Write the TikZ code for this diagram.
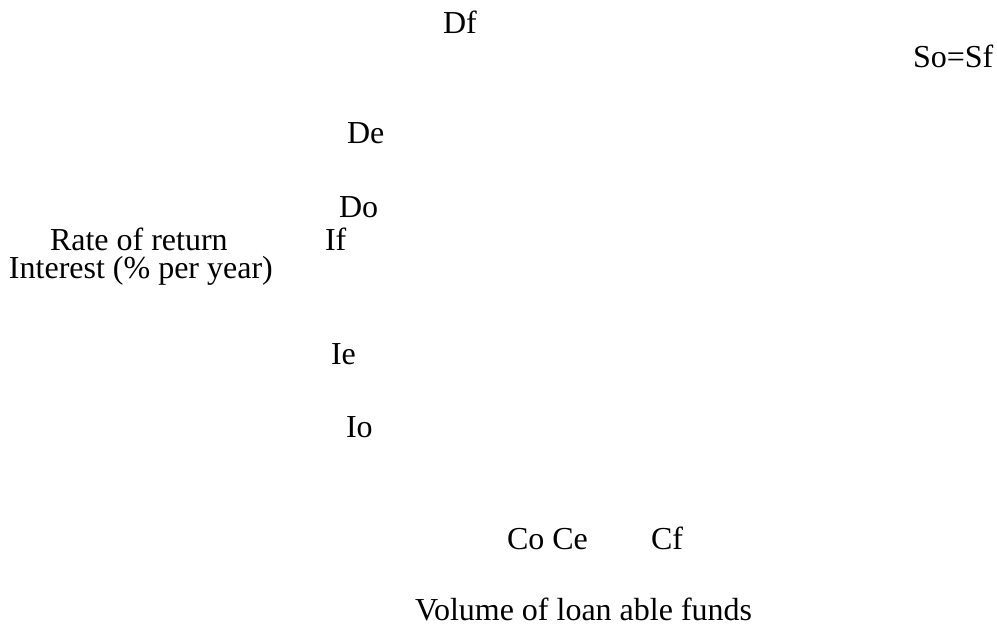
\documentclass[tikz,border=0pt]{standalone}
\usepackage{fontspec}
\setmainfont{Liberation Serif}
\begin{document}
\begin{tikzpicture}[x=1pt,y=-1pt,
  lbl/.style={anchor=base west,inner sep=0pt,outer sep=0pt,font=\fontsize{32}{38}\selectfont}]
\useasboundingbox (0,0) rectangle (997,624);
\node[lbl] (df) at (443,33) {Df};
\node[lbl] (sosf) at (913,67) {So=Sf};
\node[lbl] (de) at (347,143) {De};
\node[lbl] (do) at (339,217) {Do};
\node[lbl] (rate) at (50,250) {Rate of return};
\node[lbl] (if) at (325,250) {If};
\node[lbl] (int) at (9,278) {Interest (\% per year)};
\node[lbl] (ie) at (331,364) {Ie};
\node[lbl] (io) at (346,437) {Io};
\node[lbl] (coce) at (507,549) {Co Ce};
\node[lbl] (cf) at (651,549) {Cf};
\node[lbl] (vol) at (415,620) {Volume of loan able funds};
\end{tikzpicture}
\end{document}
